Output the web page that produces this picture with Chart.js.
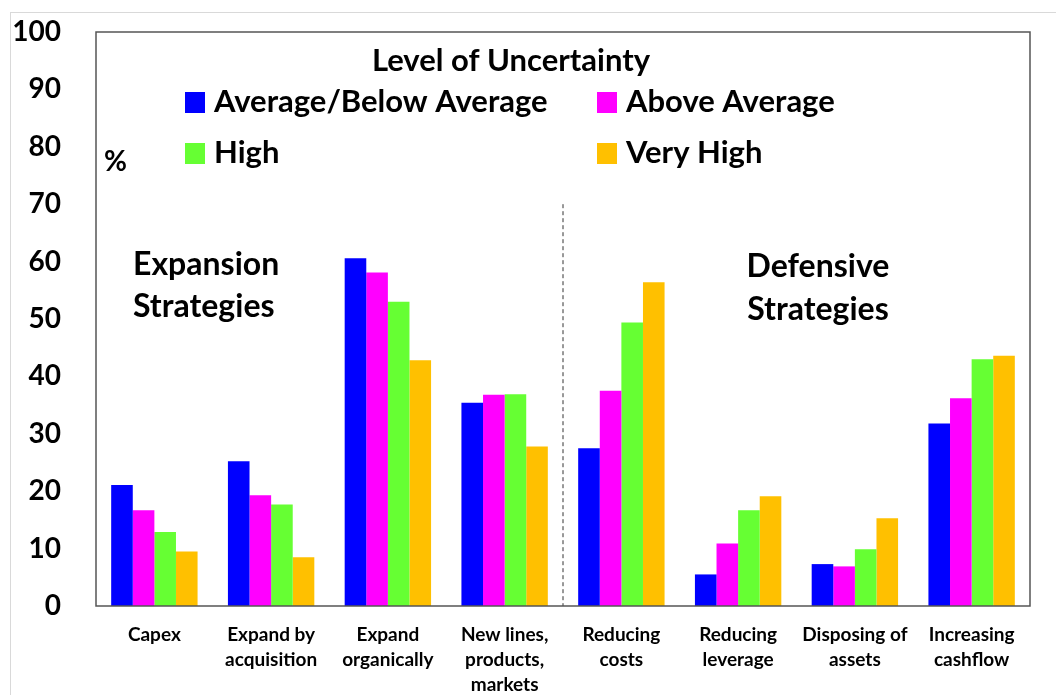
<!DOCTYPE html>
<html>
<head>
<meta charset="utf-8">
<script src="https://cdn.jsdelivr.net/npm/chart.js@4/dist/chart.umd.min.js"></script>
<style>
  html, body { margin: 0; padding: 0; background: #fff; }
  #wrap { position: relative; width: 1056px; height: 695px; }
  #frame { position: absolute; left: 10px; top: 12px; right: 0; bottom: 0;
           border-top: 1px solid #d9d9d9; border-left: 1px solid #d9d9d9; }
  canvas { position: absolute; left: 0; top: 0; }
</style>
</head>
<body>
<div id="wrap">
  <div id="frame"></div>
  <canvas id="strategyChart" width="1056" height="695"></canvas>
</div>
<script>
const categories = [
    'Capex',
    ['Expand by', 'acquisition'],
    ['Expand', 'organically'],
    ['New lines,', 'products,', 'markets'],
    ['Reducing', 'costs'],
    ['Reducing', 'leverage'],
    ['Disposing of', 'assets'],
    ['Increasing', 'cashflow']
];

const seriesNames = ['Average/Below Average', 'Above Average', 'High', 'Very High'];
const seriesColors = ['#0000ff', '#ff00ff', '#66ff33', '#ffc000'];

const avgBelow  = [21.1, 25.2, 60.6, 35.4, 27.5, 5.5, 7.3, 31.8];
const aboveAvg  = [16.7, 19.3, 58.1, 36.8, 37.5, 10.9, 6.9, 36.2];
const high      = [12.9, 17.7, 53.0, 36.9, 49.4, 16.7, 9.9, 43.0];
const veryHigh  = [9.5, 8.5, 42.8, 27.8, 56.4, 19.1, 15.3, 43.6];

const yTicks = [0, 10, 20, 30, 40, 50, 60, 70, 80, 90, 100];
const dividerTop = 70;

// legend, notes, frame and divider drawn on the canvas
const decorPlugin = {
    id: 'decor',
    afterDraw(chart) {
        const c = chart.ctx;
        const area = chart.chartArea;
        const x = chart.scales.x;
        const y = chart.scales.y;
        c.save();

        // dashed divider between expansion and defensive groups
        const xd = (x.getPixelForValue(3) + x.getPixelForValue(4)) / 2;
        c.strokeStyle = '#333';
        c.lineWidth = 1;
        c.setLineDash([4, 3]);
        c.beginPath();
        c.moveTo(xd, y.getPixelForValue(dividerTop));
        c.lineTo(xd, y.getPixelForValue(0));
        c.stroke();
        c.setLineDash([]);

        // plot frame
        c.strokeStyle = '#555';
        c.lineWidth = 1.5;
        c.strokeRect(area.left, area.top, area.right - area.left, area.bottom - area.top);

        c.fillStyle = '#000';
        c.textBaseline = 'middle';

        // legend
        c.font = 'bold 31px Lato';
        c.textAlign = 'center';
        c.fillText('Level of Uncertainty', 511, 61);
        const cols = [185, 597];
        const rows = [102, 153];
        chart.data.datasets.forEach((ds, i) => {
            const lx = cols[i % 2];
            const ly = rows[Math.floor(i / 2)];
            c.fillStyle = ds.backgroundColor;
            c.fillRect(lx, ly - 10, 20, 21);
            c.fillStyle = '#000';
            c.textAlign = 'left';
            c.fillText(ds.label, lx + 29, ly);
        });

        c.font = 'bold 28px Lato';
        c.fillText('%', 104, 162);

        c.font = 'bold 32px Lato';
        c.fillText('Expansion', 133, 265);
        c.fillText('Strategies', 133, 307);
        c.textAlign = 'center';
        c.fillText('Defensive', 818, 267);
        c.fillText('Strategies', 818, 310);

        c.restore();
    }
};

const ctx = document.getElementById('strategyChart').getContext('2d');
const strategyChart = new Chart(ctx, {
    type: 'bar',
    data: {
        labels: categories,
        datasets: [avgBelow, aboveAvg, high, veryHigh].map((vals, i) => ({
            label: seriesNames[i],
            data: vals,
            backgroundColor: seriesColors[i],
            borderWidth: 0,
            categoryPercentage: 0.74,
            barPercentage: 1.0
        }))
    },
    options: {
        responsive: false,
        animation: false,
        layout: { padding: { top: 32, right: 26, left: 0, bottom: 0 } },
        plugins: {
            legend: { display: false },
            tooltip: { enabled: false }
        },
        scales: {
            x: {
                grid: { display: false },
                border: { display: false },
                ticks: {
                    color: '#000',
                    padding: 8,
                    maxRotation: 0,
                    autoSkip: false,
                    font: { family: 'Lato', weight: 'bold', size: 19, lineHeight: 1.32 }
                },
                afterFit(scale) { scale.height = 89; }
            },
            y: {
                min: 0,
                max: 100,
                afterBuildTicks(scale) { scale.ticks = yTicks.map(v => ({ value: v })); },
                grid: { display: false },
                border: { display: false },
                ticks: {
                    color: '#000',
                    padding: 27,
                    font: { family: 'Lato', weight: 'bold', size: 28, lineHeight: 1 }
                },
                afterFit(scale) {
                    scale.width = 96;
                    scale.paddingTop = 0;
                    scale.paddingBottom = 0;
                }
            }
        }
    },
    plugins: [decorPlugin]
});
</script>
</body>
</html>
